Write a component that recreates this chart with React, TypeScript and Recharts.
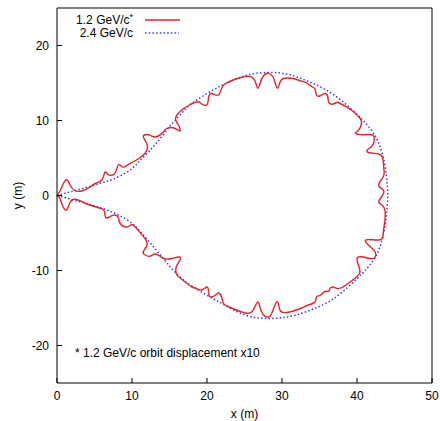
import React from 'react';
import { ComposedChart, Line, XAxis, YAxis } from 'recharts';

// 1.2 GeV/c orbit (displacement x10), upper branch then lower branch back to origin
const redUpper: number[][] = [
  [0, 0], [0.4, 0.6], [0.8, 1.5], [1.3, 2.1], [1.7, 1.5], [2.3, 0.7], [3.3, 0.6], [4.2, 1.0],
  [5.1, 1.6], [6.0, 2.1], [6.4, 3.1], [6.8, 2.8], [7.3, 2.7], [7.8, 3.1], [8.2, 4.1], [8.7, 3.8],
  [9.3, 4.0], [10.2, 4.5], [11.3, 5.2], [12.0, 6.1], [11.9, 7.1], [11.5, 7.9], [12.2, 8.1],
  [13.1, 7.8], [14.0, 8.3], [14.6, 8.9], [15.6, 9.0], [16.4, 8.6], [16.2, 9.4], [15.8, 10.2],
  [16.4, 11.2], [17.7, 12.1], [18.8, 12.5], [19.3, 12.2], [20.0, 12.1], [20.2, 13.0], [20.6, 13.6],
  [21.5, 13.4], [22.0, 14.4], [22.6, 15.0], [23.5, 15.4], [24.4, 15.7], [25.5, 15.9], [26.2, 15.6],
  [26.5, 15.0], [26.8, 14.3], [27.1, 15.0], [27.5, 15.9], [28.0, 16.3], [28.4, 16.2], [28.8, 15.8],
  [29.1, 15.0], [29.4, 14.3], [29.7, 15.0], [30.2, 15.6], [31.5, 15.6], [32.4, 15.3], [33.3, 15.0],
  [34.0, 14.5], [34.4, 14.2], [34.6, 13.4], [35.1, 13.3], [35.7, 13.6], [36.1, 13.2], [36.3, 12.3],
  [37.1, 12.3], [37.5, 12.4], [38.6, 11.8], [39.5, 11.2], [40.4, 10.3], [40.6, 9.6], [40.2, 8.7],
  [39.8, 8.3], [40.8, 8.1], [42.0, 8.1], [42.3, 7.4], [42.0, 6.6], [41.4, 6.1], [41.6, 5.7],
  [43.0, 5.5], [43.5, 4.6], [43.6, 3.4], [43.5, 2.5], [42.9, 1.3], [43.6, 0.5],
];
const redLower: number[][] = [
  [42.9, -0.8], [43.6, -1.6], [43.7, -3.5], [43.5, -5.0], [43.1, -5.9], [41.3, -5.9], [41.5, -6.6],
  [42.4, -7.5], [42.2, -8.4], [40.8, -8.2], [40.0, -8.4], [40.2, -9.3], [40.4, -10.2], [40.0, -10.8],
  [38.6, -11.9], [37.5, -12.4], [36.8, -12.2], [36.4, -12.4], [36.2, -12.8], [35.7, -12.8],
  [35.1, -13.3], [34.6, -13.5], [34.4, -14.2], [33.5, -14.6], [32.6, -15.0], [31.5, -15.4],
  [30.6, -15.6], [29.8, -15.4], [29.5, -14.4], [29.2, -14.3], [28.8, -15.3], [28.4, -16.1],
  [28.0, -16.2], [27.5, -15.9], [27.1, -15.0], [26.8, -14.2], [26.4, -14.8], [26.0, -15.5],
  [25.3, -15.7], [24.0, -15.3], [22.8, -14.8], [22.2, -14.4], [22.0, -13.7], [21.6, -13.0],
  [21.1, -13.3], [20.4, -13.5], [20.2, -12.8], [20.0, -12.2], [19.3, -12.6], [18.6, -12.4],
  [18.0, -12.2], [17.3, -11.7], [16.4, -11.0], [15.9, -10.4], [15.9, -9.5], [16.4, -8.6],
  [16.3, -8.2], [15.3, -8.4], [14.2, -8.4], [13.2, -7.8], [12.4, -8.1], [11.7, -7.9], [11.5, -7.5],
  [12.0, -6.6], [11.7, -5.7], [10.8, -4.6], [10.0, -3.9], [9.3, -4.2], [8.4, -3.7], [8.2, -3.0],
  [7.7, -2.6], [7.1, -2.8], [6.6, -3.0], [6.4, -2.6], [6.2, -1.9], [5.1, -1.5], [3.7, -1.0],
  [2.4, -0.5], [1.7, -1.0], [1.3, -1.9], [0.8, -1.5], [0.4, -0.4], [0, 0],
];

// 2.4 GeV/c orbit
const blueUpper: number[][] = [
  [0, 0], [2, 0.55], [4, 1.1], [6, 1.7], [8, 2.4], [10, 3.6], [11, 4.6], [12, 5.6], [13, 6.7],
  [14, 7.9], [15, 9.2], [16, 10.3], [17, 11.4], [18, 12.3], [20, 13.6], [22, 14.7], [24, 15.6],
  [26, 16.2], [28, 16.4], [30, 16.3], [32, 15.8], [34, 15.0], [36, 14.0], [38, 12.6], [40, 10.8],
  [41, 9.8], [42, 8.6], [42.8, 7.2], [43.4, 5.5], [43.8, 3.6], [44.0, 1.8],
];
const blueLower: number[][] = [
  [44.1, 0], [44.0, -1.8], [43.8, -3.7], [43.4, -5.7], [42.8, -7.5], [42.0, -8.9], [41, -10.1],
  [40, -11.1], [38, -12.9], [36, -14.3], [34, -15.2], [32, -15.9], [30, -16.3], [28, -16.4],
  [26, -16.2], [24, -15.5], [22, -14.4], [20, -13.3], [18, -12.1], [17, -11.4], [16, -10.5],
  [15, -9.4], [14, -8.2], [13, -7.0], [12, -5.8], [11, -4.7], [10, -3.7], [8, -2.5], [6, -1.7],
  [4, -1.1], [2, -0.55], [0, 0],
];

const xTicks = [0, 10, 20, 30, 40, 50];
const yTicks = [-20, -10, 0, 10, 20];

const FONT = '"Liberation Sans", Arial, sans-serif';
const RED = '#e3232a';
const BLUE = '#3a3ae0';

const toPoints = (pairs: number[][]) => pairs.map(([x, y]) => ({ x, y }));
const redData = toPoints([...redUpper, ...redLower]);
const blueData = toPoints([...blueUpper, ...blueLower]);

const tickStyle = { fill: '#000', fontSize: 12, fontFamily: FONT };

const YTitle = (props: any) => {
  const vb = props.viewBox || { x: 0, y: 0, height: 0 };
  const cx = vb.x + 18;
  const cy = vb.y + vb.height / 2;
  return (
    <text x={cx} y={cy} transform={`rotate(-90, ${cx}, ${cy})`} textAnchor="middle"
      dominantBaseline="central" fontSize={12} fontFamily={FONT} fill="#000">y (m)</text>
  );
};

export default function App() {
  return (
    <div style={{ position: 'absolute', left: 0, top: 0, width: 440, height: 421, background: '#fff' }}>
      <ComposedChart width={440} height={421} margin={{ top: 8, right: 8, bottom: 0, left: 0 }}>
        <XAxis dataKey="x" type="number" domain={[0, 50]} ticks={xTicks} height={38}
          tickSize={-5} tickMargin={13} tick={tickStyle}
          axisLine={{ stroke: '#000' }} tickLine={{ stroke: '#000' }}
          label={{ value: 'x (m)', position: 'insideBottom', offset: 3, fontSize: 12, fontFamily: FONT, fill: '#000' }} />
        <XAxis xAxisId="top" orientation="top" mirror type="number" domain={[0, 50]} ticks={xTicks}
          tick={false} tickSize={5} axisLine={{ stroke: '#000' }} tickLine={{ stroke: '#000' }} />
        <YAxis type="number" domain={[-25, 25]} ticks={yTicks} width={57}
          tickSize={-5} tickMargin={13} tick={tickStyle}
          axisLine={{ stroke: '#000' }} tickLine={{ stroke: '#000' }}
          label={{ content: <YTitle /> }} />
        <YAxis yAxisId="right" orientation="right" mirror type="number" domain={[-25, 25]} ticks={yTicks}
          tick={false} tickSize={5} axisLine={{ stroke: '#000' }} tickLine={{ stroke: '#000' }} />
        <Line data={blueData} dataKey="y" type="natural" stroke={BLUE} strokeWidth={1.5}
          strokeDasharray="1.5 2.2" dot={false} activeDot={false} isAnimationActive={false} />
        <Line data={redData} dataKey="y" type="natural" stroke={RED} strokeWidth={1.4}
          dot={false} activeDot={false} isAnimationActive={false} />
      </ComposedChart>

      {/* legend + note, gnuplot style */}
      <svg width={440} height={421} style={{ position: 'absolute', left: 0, top: 0, pointerEvents: 'none' }}>
        <g fontFamily={FONT} fontSize={12} fill="#000">
          <text x={133} y={24} textAnchor="end">1.2 GeV/c<tspan dy={-4} fontSize={9}>*</tspan></text>
          <line x1={145} y1={20} x2={180} y2={20} stroke={RED} strokeWidth={1.4} />
          <text x={133} y={37} textAnchor="end">2.4 GeV/c</text>
          <line x1={145} y1={33} x2={179} y2={33} stroke={BLUE} strokeWidth={1.5} strokeDasharray="1.5 2.2" />
          <text x={75} y={357}>* 1.2 GeV/c orbit displacement x10</text>
        </g>
      </svg>
    </div>
  );
}
